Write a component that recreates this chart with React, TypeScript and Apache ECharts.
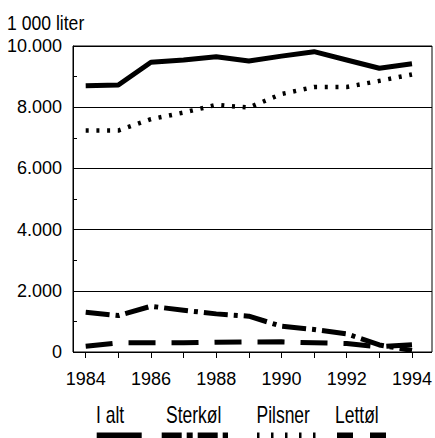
import React, { useEffect, useRef } from "react";
import * as echarts from "echarts";

const years = [1984, 1985, 1986, 1987, 1988, 1989, 1990, 1991, 1992, 1993, 1994];
const iAlt = [8705, 8727, 9468, 9543, 9651, 9511, 9670, 9814, 9543, 9272, 9420];
const sterkol = [1300, 1191, 1495, 1364, 1246, 1169, 842, 734, 594, 230, 50];
const pilsner = [7237, 7237, 7608, 7825, 8075, 7988, 8430, 8660, 8660, 8860, 9070];
const lettol = [190, 300, 300, 300, 320, 330, 333, 300, 277, 170, 240];
const yTicks = [0, 2000, 4000, 6000, 8000, 10000];
const yTickLabels = ["0", "2.000", "4.000", "6.000", "8.000", "10.000"];
const seriesNames = ["I alt", "Sterkøl", "Pilsner", "Lettøl"];

const FONT = "'Liberation Sans', Arial, Helvetica, sans-serif";

export default function App() {
  const ref = useRef<HTMLDivElement>(null);
  useEffect(() => {
    if (!ref.current) return;
    const chart = echarts.init(ref.current, null, { renderer: "svg" });
    const pair = (arr: number[]) => years.map((y, i) => [y, arr[i]]);
    const lineSeries = (name: string, arr: number[], width: number, dash: any, z: number) => ({
      name,
      type: "line",
      xAxisIndex: 1,
      yAxisIndex: 1,
      data: pair(arr),
      symbol: "none",
      z,
      lineStyle: { color: "#000", width, type: dash, cap: "butt", join: "round" },
    });
    const legendText = (text: string, x: number) => ({
      type: "text",
      x,
      y: 404,
      scaleX: 0.76,
      style: { text, font: `23px ${FONT}`, fill: "#000" },
    });
    const legendLine = (x1: number, x2: number, dash: any) => ({
      type: "line",
      shape: { x1, y1: 435.5, x2, y2: 435.5 },
      style: { stroke: "#000", lineWidth: 6, lineDash: dash, lineCap: "butt" },
    });
    chart.setOption({
      animation: false,
      backgroundColor: "#fff",
      textStyle: { fontFamily: FONT },
      grid: [
        { left: 73, right: 3, top: 46, bottom: 86, show: true, borderColor: "#000", borderWidth: 1, backgroundColor: "transparent" },
        { left: 85.7, right: 16.3, top: 46, bottom: 86 },
      ],
      xAxis: [
        { gridIndex: 0, type: "value", min: 0, max: 1, show: false },
        {
          gridIndex: 1,
          type: "value",
          min: 1984,
          max: 1994,
          interval: 1,
          axisLine: { show: false },
          axisTick: { show: true, length: 6, lineStyle: { color: "#000", width: 1 } },
          splitLine: { show: false },
          axisLabel: {
            margin: 18,
            color: "#000",
            fontSize: 18,
            fontFamily: FONT,
            formatter: (v: number) => (v % 2 === 0 ? String(v) : ""),
          },
        },
      ],
      yAxis: [
        {
          gridIndex: 0,
          type: "value",
          min: 0,
          max: 10000,
          interval: 2000,
          axisLine: { show: true, lineStyle: { color: "#000", width: 1 } },
          axisTick: { show: true, inside: true, length: 4, lineStyle: { color: "#000" } },
          minorTick: { show: true, splitNumber: 2, length: 4, lineStyle: { color: "#000" } },
          splitLine: { show: true, lineStyle: { color: "#000", width: 1 } },
          axisLabel: {
            margin: 11,
            color: "#000",
            fontSize: 18,
            fontFamily: FONT,
            formatter: (v: number) => {
              const i = yTicks.indexOf(v);
              return i >= 0 ? yTickLabels[i] : "";
            },
          },
        },
        { gridIndex: 1, type: "value", min: 0, max: 10000, show: false },
      ],
      series: [
        lineSeries(seriesNames[3], lettol, 5, [27, 16], 2),
        lineSeries(seriesNames[1], sterkol, 5, [24, 6, 4, 6], 3),
        lineSeries(seriesNames[2], pilsner, 4.5, [3, 7.7], 4),
        lineSeries(seriesNames[0], iAlt, 5, "solid", 5),
      ],
      graphic: [
        {
          type: "text",
          x: 7,
          y: 13,
          scaleX: 0.88,
          style: { text: "1 000 liter", font: `20px ${FONT}`, fill: "#000" },
        },
        legendText(seriesNames[0], 96),
        legendText(seriesNames[1], 166),
        legendText(seriesNames[2], 256.5),
        legendText(seriesNames[3], 335),
        legendLine(96.7, 141.7, null),
        legendLine(161.7, 228, [20, 5, 6, 5]),
        legendLine(257, 317, [2.5, 11.5]),
        legendLine(337, 392, [16, 17]),
      ],
    });
    return () => chart.dispose();
  }, []);
  return <div ref={ref} style={{ position: "fixed", left: 0, top: 0, width: 435, height: 438 }} />;
}
